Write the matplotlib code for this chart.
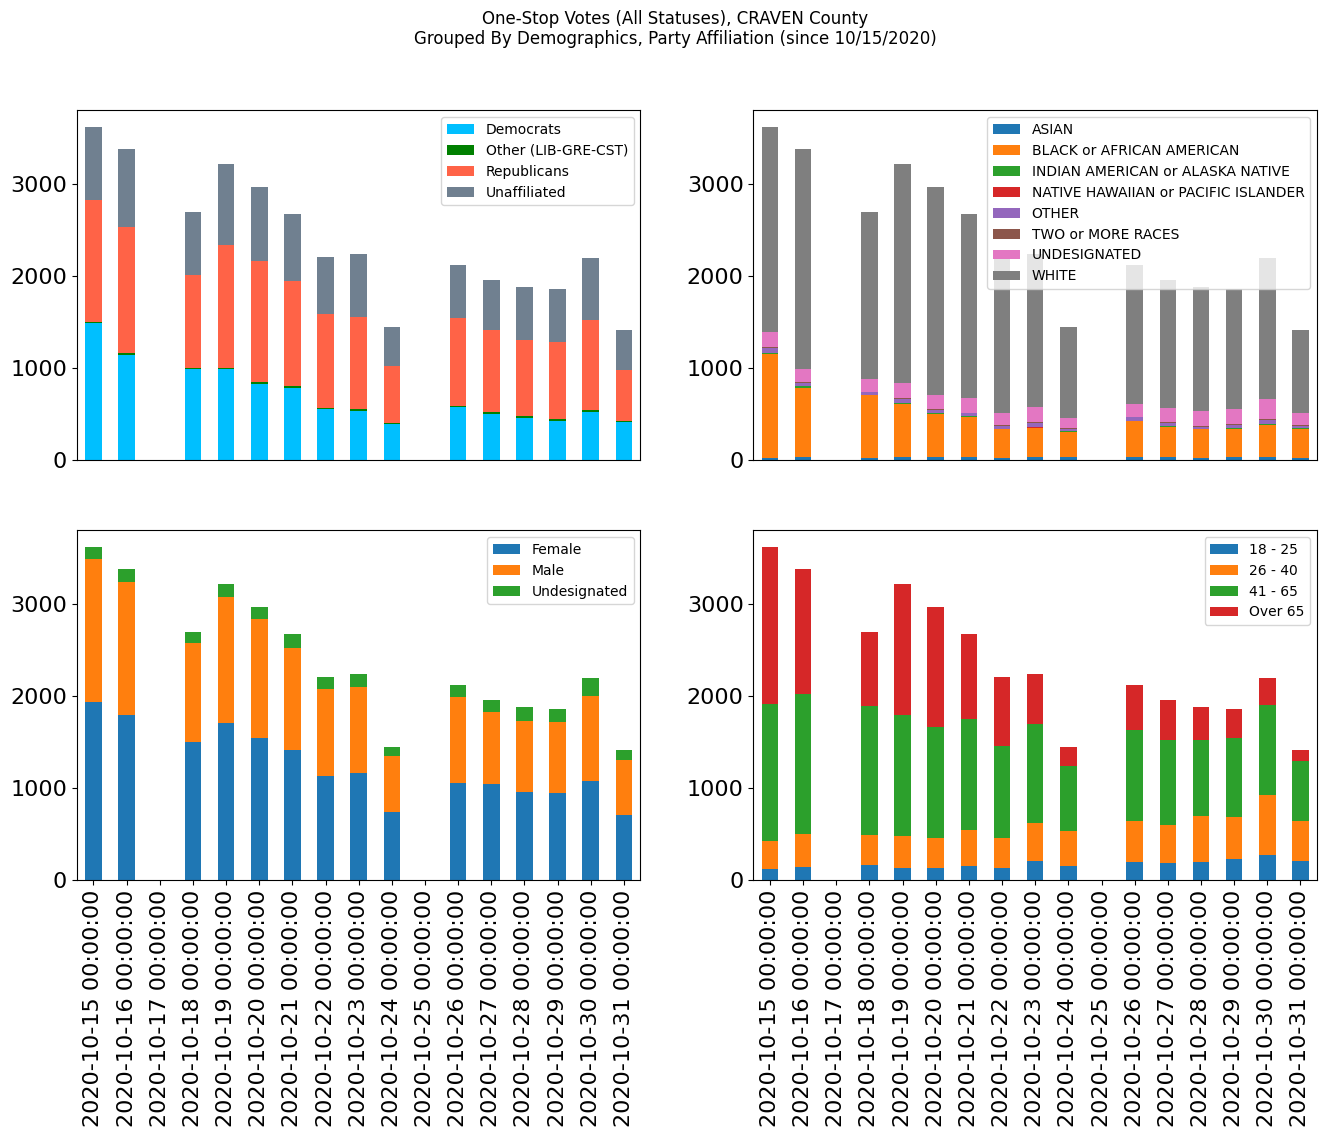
import matplotlib
matplotlib.use("Agg")
import matplotlib.pyplot as plt
import numpy as np

# dates (2020-10-15 .. 2020-10-31), 10-17 and 10-25 had no voting
dates = ["2020-10-%02d 00:00:00" % d for d in range(15, 32)]

# party affiliation
democrats = [1489, 1141, 0, 989, 989, 826, 783, 554, 533, 391, 0, 576, 500, 457, 424, 522, 413]
other_party = [11, 22, 0, 11, 11, 22, 21, 15, 21, 11, 0, 11, 22, 21, 22, 21, 11]
republicans = [1330, 1370, 0, 1011, 1337, 1315, 1142, 1022, 1000, 623, 0, 956, 891, 830, 840, 979, 558]
unaffiliated = [790, 847, 0, 685, 880, 804, 728, 616, 685, 421, 0, 577, 544, 572, 573, 674, 431]

# race
asian = [22, 33, 0, 22, 33, 33, 33, 22, 33, 33, 0, 33, 33, 22, 33, 33, 22]
black = [1130, 750, 0, 685, 576, 467, 434, 315, 315, 271, 0, 391, 326, 315, 304, 347, 315]
indian = [11, 21, 0, 0, 11, 11, 11, 0, 0, 11, 0, 0, 11, 0, 11, 11, 11]
hawaiian = [0, 0, 0, 0, 0, 0, 0, 0, 11, 0, 0, 0, 0, 0, 0, 0, 0]
other_race = [54, 33, 0, 32, 43, 32, 33, 33, 43, 22, 0, 43, 32, 22, 32, 44, 22]
two_more = [11, 11, 0, 0, 11, 11, 0, 10, 11, 11, 0, 0, 11, 11, 11, 11, 10]
undesignated_race = [163, 141, 0, 141, 163, 153, 163, 131, 163, 109, 0, 142, 152, 163, 163, 217, 131]
white = [2229, 2391, 0, 1816, 2380, 2260, 2000, 1696, 1663, 989, 0, 1511, 1392, 1347, 1305, 1533, 902]

# gender
female = [1935, 1793, 0, 1500, 1707, 1543, 1413, 1130, 1163, 739, 0, 1054, 1043, 957, 946, 1076, 707]
male = [1554, 1446, 0, 1076, 1369, 1294, 1109, 946, 935, 609, 0, 935, 783, 771, 771, 924, 597]
undesignated_gender = [131, 141, 0, 120, 141, 130, 152, 131, 141, 98, 0, 131, 131, 152, 142, 196, 109]

# age
age_18_25 = [120, 141, 0, 163, 130, 130, 152, 130, 207, 152, 0, 196, 185, 196, 228, 272, 207]
age_26_40 = [304, 359, 0, 326, 348, 327, 391, 327, 413, 381, 0, 445, 413, 500, 457, 652, 434]
age_41_65 = [1489, 1522, 0, 1402, 1315, 1206, 1207, 1000, 1076, 706, 0, 989, 924, 826, 858, 978, 652]
age_over_65 = [1707, 1358, 0, 805, 1424, 1304, 924, 750, 543, 207, 0, 490, 435, 358, 316, 294, 120]


def stacked(ax, series, labels, colors):
    x = np.arange(len(dates))
    bottom = np.zeros(len(dates))
    for vals, lab, col in zip(series, labels, colors):
        ax.bar(x, vals, 0.5, bottom=bottom, label=lab, color=col)
        bottom += np.array(vals)
    ax.set_xlim(-0.5, len(dates) - 0.5)
    ax.set_xticks(x)
    ax.set_xticklabels(dates, rotation=90)
    ax.tick_params(labelsize=16)
    ax.legend(loc="upper right", fontsize=10)


fig, axes = plt.subplots(2, 2, figsize=(13.26, 11.37), dpi=100, sharex=True)
fig.subplots_adjust(left=0.058, right=0.9932, top=0.903, bottom=0.226, wspace=0.2005, hspace=0.2)

tab = plt.rcParams["axes.prop_cycle"].by_key()["color"]

stacked(axes[0, 0], [democrats, other_party, republicans, unaffiliated],
        ["Democrats", "Other (LIB-GRE-CST)", "Republicans", "Unaffiliated"],
        ["deepskyblue", "green", "tomato", "slategray"])
stacked(axes[0, 1], [asian, black, indian, hawaiian, other_race, two_more, undesignated_race, white],
        ["ASIAN", "BLACK or AFRICAN AMERICAN", "INDIAN AMERICAN or ALASKA NATIVE",
         "NATIVE HAWAIIAN or PACIFIC ISLANDER", "OTHER", "TWO or MORE RACES",
         "UNDESIGNATED", "WHITE"], tab[:8])
stacked(axes[1, 0], [female, male, undesignated_gender],
        ["Female", "Male", "Undesignated"], tab[:3])
stacked(axes[1, 1], [age_18_25, age_26_40, age_41_65, age_over_65],
        ["18 - 25", "26 - 40", "41 - 65", "Over 65"], tab[:4])

for ax in axes[0]:
    ax.tick_params(axis="x", bottom=False, labelbottom=False)

fig.suptitle("One-Stop Votes (All Statuses), CRAVEN County\n"
             "Grouped By Demographics, Party Affiliation (since 10/15/2020)",
             fontsize=12, x=0.509, y=0.9915)

fig.savefig("out.png")
